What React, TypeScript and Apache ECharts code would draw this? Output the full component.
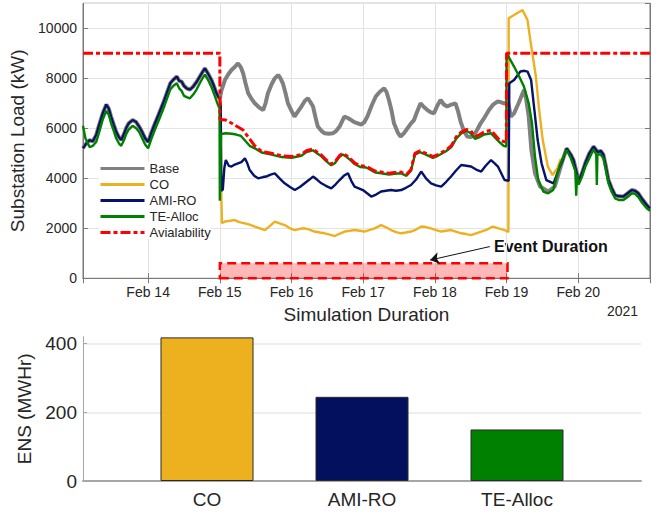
import React, { useEffect, useRef } from "react";
import * as echarts from "echarts";

type P = [number, number];

// time origin: 13 Feb 2021 00:00 (UTC); x values below are hours from it
const T0 = Date.UTC(2021, 1, 13);
const HOUR = 3600 * 1000;
const DAY = 24 * HOUR;
const xStartHour = 2.2;
const xEndHour = 192;
const loadMax = 11000;
const loadStep = 2000;

// Base / CO / AMI-RO share the same load before the event
const preLoad: P[] = [
  [2.2, 5200], [3, 5350], [4.4, 5530], [5.5, 5480], [6.6, 5730], [7.5, 6100], [8.8, 6600], [10, 6950],
  [10.8, 6800], [11.6, 6470], [12.5, 6150], [13.3, 5870], [14.2, 5650], [15, 5530], [16, 5800], [16.6, 6000],
  [17.5, 6200], [18.8, 6330], [20, 6250], [21, 6070], [22, 5850], [23, 5600], [24, 5450], [25, 5800],
  [26.3, 6200], [27.5, 6550], [29, 7000], [30.2, 7400], [31.4, 7800], [32.5, 7950], [33.6, 8070], [34.4, 7900],
  [35.2, 7870], [36, 7700], [36.9, 7600], [38, 7550], [39.1, 7670], [40.2, 7850], [41.3, 8070], [42.2, 8250],
  [43, 8400], [44, 8200], [45.2, 7930], [46, 7700], [46.9, 7400], [47.5, 7250], [48, 7200],
];

const baseEvent: P[] = [
  [48.5, 7500], [49.7, 7930], [50.8, 8150], [51.9, 8330], [53, 8450], [54.1, 8600], [55, 8450], [55.8, 8200],
  [56.6, 7800], [57.5, 7400], [58.5, 7200], [59.7, 7000], [61, 6850], [62.5, 6730], [63.3, 7000], [64.1, 7400],
  [65.3, 7750], [66.4, 8000], [67.5, 8130], [68.3, 8000], [69.1, 7800], [70, 7400], [70.8, 7000], [72, 6700],
  [73, 6470], [74, 6650], [75.3, 6870], [76.5, 7100], [77.5, 7200], [78.3, 7050], [79.2, 6870], [80, 6450],
  [80.8, 6070], [82, 5900], [83.1, 5800], [84.5, 5780], [85.8, 5800], [87, 5900], [88.1, 6070], [89, 6300],
  [89.7, 6470], [91, 6400], [92, 6330], [93, 6250], [94.2, 6200], [95.3, 6150], [96.4, 6250], [97.4, 6470],
  [98.8, 6900], [100.2, 7270], [101.5, 7450], [103, 7600], [103.8, 7450], [104.6, 7130], [105.5, 6700], [106.3, 6200],
  [107.5, 5850], [108.5, 5670], [109.6, 5800], [110.8, 6000], [112, 6200], [113, 6330], [114, 6650], [115.2, 7000],
  [116.3, 6850], [117.5, 6730], [118.5, 6650], [119.7, 6600], [120.8, 6900], [121.9, 7130], [123, 6950], [124.1, 6870],
  [125.5, 6950], [126.9, 7000], [127.7, 6700], [128.6, 6270], [129.7, 5900], [130.8, 5670], [132, 5650], [133.1, 5730],
  [134.2, 5950], [135.3, 6200], [136.7, 6450], [138.1, 6730], [139.5, 6950], [140.9, 7070], [142, 7050], [143.1, 7000],
  [144.5, 7050], [145.4, 6470], [146.5, 6600], [148, 7000], [149.8, 7530], [150.5, 7200], [151.4, 6470], [152.3, 5130],
  [153.5, 4200], [155.2, 3670], [157.9, 3470], [160.1, 3670],
];

const coEvent: P[] = [
  [48.3, 6900], [48.5, 3400], [48.7, 2200], [49.7, 2270], [51.5, 2300], [53, 2330], [54.5, 2250], [56.4, 2200],
  [58, 2150], [59.7, 2070], [61.5, 2000], [63.1, 1930], [64.8, 2100], [66.4, 2270], [68, 2200], [69.7, 2130],
  [71.5, 2000], [73.1, 1930], [74.8, 1980], [76.4, 2000], [78, 1950], [79.7, 1870], [81.5, 1830], [83.1, 1800],
  [84.8, 1750], [86.5, 1690], [88, 1780], [89.8, 1870], [91.5, 1900], [93.1, 1930], [94.8, 1900], [96.4, 1870],
  [98, 1930], [99.8, 2000], [102, 2130], [103.5, 2050], [105.3, 1930], [107, 1850], [108.7, 1800], [110.3, 1830],
  [112, 1870], [113.7, 1950], [115.4, 2070], [117, 2050], [118.7, 2000], [120.4, 1930], [122.1, 1870], [123.7, 1900],
  [125.4, 1930], [127, 1870], [128.8, 1800], [130.5, 1770], [132.1, 1730], [133.8, 1800], [135.5, 1870], [137.5, 1950],
  [139.4, 2070], [141.3, 2000], [143.3, 1930], [144.6, 1850],
];

const coPost: P[] = [
  [144.7, 10400], [146.5, 10530], [149.3, 10730], [151, 10330], [152.1, 9400], [153.8, 8070], [154.9, 6730],
  [156.1, 5530], [157.8, 4470], [159.4, 4130], [161, 4400], [162, 4750],
];

const amiEvent: P[] = [
  [48.3, 6900], [48.5, 3500], [49, 3550], [49.5, 4400], [50, 4730], [51, 4500], [51.9, 4470], [53, 4550],
  [54.1, 4600], [55.2, 4650], [56.4, 4800], [57.2, 4600], [58, 4330], [59.5, 4100], [60.8, 4000], [62.5, 4050],
  [63.5, 4070], [65, 4150], [66.4, 4200], [68, 4000], [69.7, 3800], [71.5, 3650], [73.1, 3530], [74.8, 3650],
  [76.4, 3800], [78, 3950], [79.2, 4070], [80.5, 3950], [82, 3800], [83.5, 3700], [85.3, 3600], [86.7, 3750],
  [88.1, 3930], [89.5, 4100], [90.9, 4200], [92, 3900], [93.1, 3670], [94.5, 3600], [95.9, 3530], [97.3, 3400],
  [98.7, 3270], [100.3, 3350], [102, 3470], [103.6, 3500], [105.3, 3530], [107, 3500], [108.7, 3530], [110.3, 3620],
  [112, 3730], [113.7, 3950], [115.4, 4270], [117, 4000], [118.7, 3800], [120.4, 3720], [122.1, 3670], [123.7, 3850],
  [125.4, 4070], [127, 4300], [128.8, 4530], [130.5, 4500], [132.1, 4470], [133.8, 4350], [135.5, 4270], [137, 4500],
  [138.8, 4730], [140, 4600], [141.1, 4470], [142.2, 4200], [143.3, 3930], [144.7, 3900],
];

const amiPost: P[] = [
  [144.9, 7800], [146.5, 7930], [148.6, 8270], [150, 8300], [151, 8270], [152.2, 7930], [153.3, 6730],
  [154.4, 5530], [155.7, 4600], [157.3, 3930], [159.7, 3800], [161.8, 4470],
];

// shared tail after the event (Base / CO / AMI-RO)
const tailLoad: P[] = [
  [162.7, 4700], [164.1, 5200], [165.5, 4950], [166.4, 4730], [167.3, 4300], [168.1, 3870], [169.2, 4200],
  [170.3, 4600], [171.7, 5000], [173.1, 5270], [174.5, 5050], [175.5, 5100], [176.4, 4950], [177.2, 4500],
  [178.1, 3930], [179.2, 3600], [180.3, 3330], [181.7, 3280], [183.1, 3270], [184.5, 3400], [185.9, 3530],
  [187, 3500], [188.1, 3400], [189.5, 3150], [190.9, 2930], [192, 2800],
];

const tePre: P[] = [
  [2.2, 6100], [3, 5600], [4.4, 5250], [5.5, 5300], [6.6, 5450], [7.5, 5800], [8.8, 6350], [10, 6700],
  [10.8, 6550], [11.6, 6200], [12.5, 5900], [13.3, 5600], [14.2, 5400], [15, 5300], [16, 5550], [16.6, 5750],
  [17.5, 5950], [18.8, 6100], [20, 6000], [21, 5850], [22, 5600], [23, 5350], [24, 5200], [25, 5550],
  [26.3, 5950], [27.5, 6300], [29, 6750], [30.2, 7150], [31.4, 7550], [32.5, 7700], [33.6, 7800], [34.4, 7600],
  [35.2, 7500], [36, 7300], [36.9, 7250], [38, 7200], [39.1, 7350], [40.2, 7550], [41.3, 7800], [42.2, 8000],
  [43, 8150], [44, 7950], [45.2, 7650], [46, 7400], [46.9, 7100], [47.5, 6900], [47.9, 6800], [48, 3100],
  [48.4, 5800],
];

const teEvent: P[] = [
  [49, 5780], [50, 5800], [52, 5780], [53.5, 5750], [55, 5700], [56.5, 5500], [58, 5300], [59.7, 5200],
  [62, 5030], [65.3, 4950], [68.7, 4850], [72, 4820], [75.3, 4900], [77, 5050], [79.2, 5120], [80.5, 5000],
  [82, 4880], [83.5, 4700], [85.3, 4520], [86.5, 4600], [88, 4850], [89.2, 4950], [90.5, 4850], [92, 4700],
  [93.1, 4570], [95, 4450], [97, 4430], [99, 4300], [100.2, 4230], [102, 4200], [104.6, 4150], [106.5, 4180],
  [108.7, 4200], [110.5, 4100], [112, 4300], [113.3, 4950], [115, 5050], [117, 4950], [119.3, 4820], [121, 4900],
  [123.7, 5080], [125.5, 5250], [127.2, 5600], [128.8, 5800], [130.5, 5900], [132, 5800], [133.4, 5580], [135, 5650],
  [136.5, 5750], [138.8, 5800], [140, 5650], [141.6, 5450], [143, 5300], [143.9, 5270],
];

const tePost: P[] = [
  [144, 9000], [146.5, 8470], [148.2, 8070], [149.8, 7670], [151.4, 7000], [152.5, 6200], [153.5, 4870],
  [154.6, 3930], [156.3, 3470], [157.9, 3400], [159.6, 3530], [161.8, 4530], [163.5, 5000], [164.1, 5130],
  [165.5, 4800], [167, 4300], [167.3, 3300], [167.6, 4150], [168.1, 3750], [169.2, 4050], [170.3, 4450],
  [171.7, 4800], [173.1, 5150], [174, 4950], [174.2, 3730], [174.4, 4950], [175.5, 4950], [176.4, 4800],
  [177.2, 4350], [178.1, 3800], [179.2, 3450], [180.3, 3200], [181.7, 3130], [183.1, 3130], [184.5, 3250],
  [185.9, 3400], [187, 3380], [188.1, 3250], [189.5, 3000], [190.9, 2800], [192, 2700],
];

const availability: P[] = [
  [2.2, 9000], [48, 9000], [48.05, 6350], [50, 6330], [52, 6200], [53, 6130], [55.8, 5930], [57.5, 5650],
  [59.7, 5300], [62, 5070], [65.3, 5000], [68.7, 4900], [72, 4870], [75.3, 4950], [77, 5100], [79.2, 5170],
  [80.5, 5050], [82, 4930], [83.5, 4750], [85.3, 4570], [86.5, 4650], [88, 4900], [89.2, 5000], [90.5, 4900],
  [92, 4750], [93.1, 4620], [95, 4500], [97, 4480], [99, 4350], [100.2, 4280], [102, 4250], [104.6, 4200],
  [106.5, 4230], [108.7, 4250], [110.5, 4150], [112, 4350], [113.3, 5000], [115, 5100], [117, 5000], [119.3, 4870],
  [121, 4950], [123.7, 5130], [125.5, 5300], [127.2, 5670], [128.8, 5850], [130.5, 5950], [132, 5900], [133.4, 5670],
  [135, 5750], [136.5, 5850], [138.8, 5930], [140, 5750], [141.6, 5530], [143, 5470], [143.9, 5450], [144, 9000],
  [192, 9000],
];

// event duration box and annotation arrow (hours, kW)
const eventStartHour = 48;
const eventEndHour = 144.3;
const eventBoxTop = 600;
const arrowFrom: P = [138.4, 1270];
const arrowTo: P = [118.4, 730];

// ENS bar chart
const barNames = ["CO", "AMI-RO", "TE-Alloc"];
const ensValues = [418, 245, 150];
const ensMax = 420;

const seriesNames = ["Base", "CO", "AMI-RO", "TE-Alloc", "Avialability"];
const colors = {
  base: "#808080",
  co: "#EDB120",
  ami: "#06136A",
  te: "#008000",
  avail: "#FF0000",
};
const barColors = ["#EDB120", "#03105E", "#008000"];

const toTime = (pts: P[]) => pts.map(([h, v]) => [T0 + h * HOUR, v]);

const FONT = "'Liberation Sans', Arial, Helvetica, sans-serif";
const TXT = "#262626";

export default function App() {
  const ref = useRef<HTMLDivElement>(null);

  useEffect(() => {
    document.body.style.margin = "0";
    if (!ref.current) return;
    const chart = echarts.init(ref.current, undefined, { renderer: "svg" });

    const lineCommon = {
      type: "line" as const,
      xAxisIndex: 0,
      yAxisIndex: 0,
      symbol: "none",
      showSymbol: false,
      silent: true,
      emphasis: { disabled: true },
    };

    const option: any = {
      animation: false,
      useUTC: true,
      textStyle: { fontFamily: FONT },
      legend: {
        data: seriesNames,
        orient: "vertical",
        left: 99,
        top: 162,
        padding: 0,
        itemWidth: 44,
        itemHeight: 14,
        itemGap: 3,
        backgroundColor: "#ffffff",
        itemStyle: { opacity: 0 },
        lineStyle: { width: 3 },
        textStyle: { fontSize: 13, color: TXT, fontFamily: FONT },
      },
      grid: [
        { left: 83, top: 3.3, width: 567, height: 275, show: true, borderColor: "#7a7a7a", borderWidth: 1 },
        { left: 83, top: 336.7, width: 558, height: 144.3 },
      ],
      xAxis: [
        {
          type: "time",
          gridIndex: 0,
          min: T0 + xStartHour * HOUR,
          max: T0 + xEndHour * HOUR,
          minInterval: DAY,
          maxInterval: DAY,
          axisLine: { show: true, lineStyle: { color: "#7a7a7a" } },
          axisTick: { show: true, inside: true, length: 5, lineStyle: { color: "#7a7a7a" } },
          axisLabel: {
            show: true,
            showMinLabel: false,
            showMaxLabel: false,
            fontSize: 14,
            color: TXT,
            fontFamily: FONT,
            margin: 7,
            formatter: (val: number) => "Feb " + new Date(val).getUTCDate(),
          },
          splitLine: { show: true, lineStyle: { color: "#e3e3e3" } },
          name: "Simulation Duration",
          nameLocation: "middle",
          nameGap: 27,
          nameTextStyle: { fontSize: 19, color: TXT, fontFamily: FONT, verticalAlign: "top" },
        },
        {
          type: "time",
          gridIndex: 0,
          position: "top",
          min: T0 + xStartHour * HOUR,
          max: T0 + xEndHour * HOUR,
          minInterval: DAY,
          maxInterval: DAY,
          axisLine: { show: true, lineStyle: { color: "#7a7a7a" } },
          axisTick: { show: true, inside: true, length: 5, lineStyle: { color: "#7a7a7a" } },
          axisLabel: { show: false },
          splitLine: { show: false },
        },
        {
          type: "value",
          gridIndex: 1,
          min: 0.2,
          max: 3.8,
          axisLine: { show: true, lineStyle: { color: "#a6a6a6", width: 2 } },
          axisTick: {
            show: true,
            inside: true,
            length: 4,
            customValues: [1, 2, 3],
            lineStyle: { color: "#888" },
          },
          axisLabel: {
            show: true,
            customValues: [1, 2, 3],
            formatter: (v: number) => barNames[Math.round(v) - 1] ?? "",
            fontSize: 19,
            color: TXT,
            fontFamily: FONT,
            margin: 9,
          },
          splitLine: { show: false },
        },
      ],
      yAxis: [
        {
          type: "value",
          gridIndex: 0,
          min: 0,
          max: loadMax,
          interval: loadStep,
          axisLine: { show: true, lineStyle: { color: "#7a7a7a" } },
          axisTick: { show: true, inside: true, length: 5, lineStyle: { color: "#7a7a7a" } },
          axisLabel: {
            fontSize: 14,
            color: TXT,
            fontFamily: FONT,
            margin: 6,
            showMaxLabel: false,
            formatter: (v: number) => String(v),
          },
          splitLine: { show: true, lineStyle: { color: "#e3e3e3" } },
          name: "Substation Load (kW)",
          nameLocation: "middle",
          nameGap: 49,
          nameTextStyle: { fontSize: 19, color: TXT, fontFamily: FONT },
        },
        {
          type: "value",
          gridIndex: 0,
          position: "right",
          min: 0,
          max: loadMax,
          interval: loadStep,
          axisLine: { show: true, lineStyle: { color: "#7a7a7a" } },
          axisTick: { show: true, inside: true, length: 5, lineStyle: { color: "#7a7a7a" } },
          axisLabel: { show: false },
          splitLine: { show: false },
        },
        {
          type: "value",
          gridIndex: 1,
          min: 0,
          max: ensMax,
          interval: 200,
          axisLine: { show: true, lineStyle: { color: "#a6a6a6", width: 1 } },
          axisTick: { show: true, inside: true, length: 4, lineStyle: { color: "#a6a6a6" } },
          axisLabel: {
            fontSize: 19,
            color: TXT,
            fontFamily: FONT,
            margin: 6,
            showMaxLabel: false,
            formatter: (v: number) => String(v),
          },
          splitLine: { show: true, showMaxLine: false, showMinLine: false, lineStyle: { color: "#e8e8e8", width: 1.5 } },
          name: "ENS (MWHr)",
          nameLocation: "middle",
          nameGap: 47,
          nameTextStyle: { fontSize: 19, color: TXT, fontFamily: FONT },
        },
      ],
      series: [
        {
          ...lineCommon,
          name: "Base",
          data: toTime([...preLoad, ...baseEvent, ...tailLoad]),
          lineStyle: { color: colors.base, width: 4 },
          itemStyle: { color: colors.base },
        },
        {
          ...lineCommon,
          name: "CO",
          data: toTime([...preLoad, ...coEvent, ...coPost, ...tailLoad]),
          lineStyle: { color: colors.co, width: 2.4 },
          itemStyle: { color: colors.co },
        },
        {
          ...lineCommon,
          name: "AMI-RO",
          data: toTime([...preLoad, ...amiEvent, ...amiPost, ...tailLoad]),
          lineStyle: { color: colors.ami, width: 2.4 },
          itemStyle: { color: colors.ami },
        },
        {
          ...lineCommon,
          name: "TE-Alloc",
          data: toTime([...tePre, ...teEvent, ...tePost]),
          lineStyle: { color: colors.te, width: 2.4 },
          itemStyle: { color: colors.te },
        },
        {
          ...lineCommon,
          name: "Avialability",
          data: toTime(availability),
          lineStyle: { color: colors.avail, width: 3, type: [10, 3, 4, 3] },
          itemStyle: { color: colors.avail },
          markArea: {
            silent: true,
            itemStyle: {
              color: "rgba(255, 0, 0, 0.28)",
              borderColor: colors.avail,
              borderWidth: 2.5,
              borderType: [9, 5],
            },
            label: { show: false },
            data: [
              [
                { coord: [T0 + eventStartHour * HOUR, 0] },
                { coord: [T0 + eventEndHour * HOUR, eventBoxTop] },
              ],
            ],
          },
          markLine: {
            silent: true,
            symbolSize: 9,
            label: { show: false },
            lineStyle: { color: "#111", width: 1, type: "solid" },
            data: [
              [
                { coord: [T0 + arrowFrom[0] * HOUR, arrowFrom[1]], symbol: "none" },
                { coord: [T0 + arrowTo[0] * HOUR, arrowTo[1]], symbol: "arrow" },
              ],
            ],
          },
        },
        {
          type: "bar",
          xAxisIndex: 2,
          yAxisIndex: 2,
          barWidth: 93,
          silent: true,
          data: barNames.map((n, i) => ({
            name: n,
            value: [i + 1, ensValues[i]],
            itemStyle: { color: barColors[i], borderColor: "#2b2b2b", borderWidth: 1 },
          })),
        },
      ],
      graphic: [
        {
          type: "text",
          left: 494,
          top: 238,
          style: { text: "Event Duration", font: `bold 16px ${FONT}`, fill: "#111" },
          silent: true,
        },
        {
          type: "text",
          left: 607,
          top: 304,
          style: { text: "2021", font: `14px ${FONT}`, fill: TXT },
          silent: true,
        },
      ],
    };

    chart.setOption(option);
    return () => chart.dispose();
  }, []);

  return <div ref={ref} style={{ width: 664, height: 514 }} />;
}
